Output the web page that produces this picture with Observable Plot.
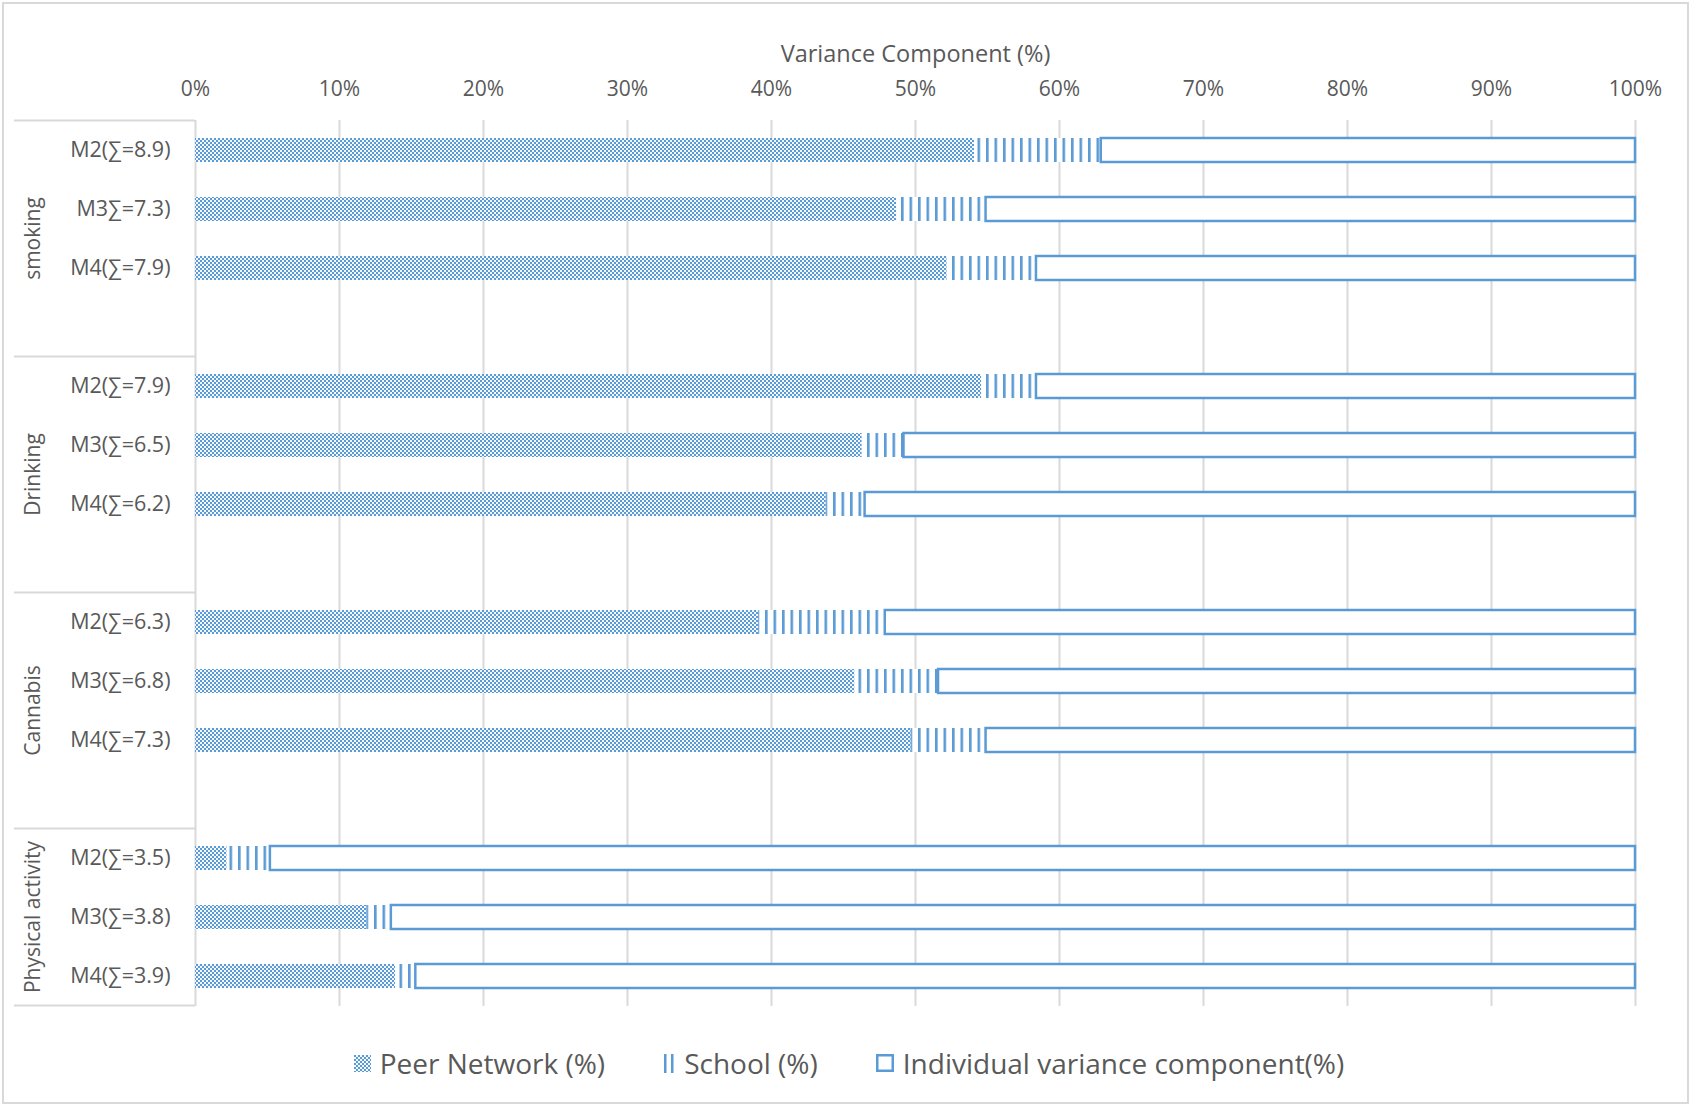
<!DOCTYPE html>
<html>
<head>
<meta charset="utf-8">
<script src="https://cdn.jsdelivr.net/npm/d3@7"></script>
<script src="https://cdn.jsdelivr.net/npm/@observablehq/plot@0.6"></script>
<style>
html, body { margin: 0; padding: 0; background: #fff; }
body { width: 1692px; height: 1106px; position: relative; overflow: hidden; font-family: "Open Sans", sans-serif; }
#frame { position: absolute; left: 2px; top: 2px; width: 1687px; height: 1102px; border: 2px solid #d9d9d9; box-sizing: border-box; }
#chart { position: absolute; left: 0; top: 0; }
#legend { position: absolute; left: 0; top: 1042px; width: 1692px; height: 42px; display: flex; justify-content: center; align-items: center; font-size: 28px; color: #595959; padding-left: 6px; box-sizing: border-box; }
#legend .item { display: flex; align-items: center; margin: 0 29px; white-space: nowrap; }
#legend svg { margin-right: 9px; }
</style>
</head>
<body>
<svg width="0" height="0" style="position:absolute">
  <defs>
    <pattern id="peerPat" patternUnits="userSpaceOnUse" width="4" height="4">
      <rect width="4" height="4" fill="#f4f8fd"/>
      <rect x="0" y="0" width="2" height="2" fill="#5b9bd5"/>
      <rect x="2" y="2" width="2" height="2" fill="#5b9bd5"/>
    </pattern>
    <pattern id="schoolPat" patternUnits="userSpaceOnUse" width="8.5" height="10">
      <rect width="8.5" height="10" fill="#ffffff"/>
      <rect x="0" y="0" width="2.6" height="10" fill="#5b9bd5"/>
    </pattern>
  </defs>
</svg>
<div id="frame"></div>
<div id="chart"></div>
<div id="legend"></div>
<script>
// ---- data ----
const groups = ["smoking", "Drinking", "Cannabis", "Physical activity"];
const models = ["M2", "M3", "M4"];
const rowLabels = [
  "M2(∑=8.9)", "M3∑=7.3)", "M4(∑=7.9)",
  "M2(∑=7.9)", "M3(∑=6.5)", "M4(∑=6.2)",
  "M2(∑=6.3)", "M3(∑=6.8)", "M4(∑=7.3)",
  "M2(∑=3.5)", "M3(∑=3.8)", "M4(∑=3.9)"
];
const peerNetwork = [54.1, 48.7, 52.2, 54.6, 46.3, 43.8, 39.1, 45.8, 49.7, 2.2, 11.9, 13.9];
const school      = [8.8, 6.2, 6.2, 3.8, 2.9, 2.7, 8.8, 5.8, 5.2, 3.0, 1.7, 1.4];
const individual  = [37.1, 45.1, 41.6, 41.6, 50.8, 53.5, 52.1, 48.4, 45.1, 94.8, 86.4, 84.7];
const xTicks = [0, 10, 20, 30, 40, 50, 60, 70, 80, 90, 100];
const axisTitle = "Variance Component (%)";
const legendLabels = ["Peer Network (%)", "School (%)", "Individual variance component(%)"];

// ---- build table ----
const BLUE = "#5b9bd5";
const GRID = "#d9d9d9";
const TEXT = "#595959";
const rows = [];
const yKeys = [];
const groupKeys = [];
groups.forEach((g, gi) => {
  const keys = [];
  models.forEach((m, mi) => {
    const i = gi * models.length + mi;
    const key = g + "|" + m;
    keys.push(key);
    yKeys.push(key);
    rows.push({
      key,
      label: rowLabels[i],
      peer: peerNetwork[i],
      schoolEnd: peerNetwork[i] + school[i],
      indEnd: peerNetwork[i] + school[i] + individual[i]
    });
  });
  if (gi < groups.length - 1) yKeys.push(g + "|gap");
  groupKeys.push(keys);
});
const labelMap = new Map(rows.map(r => [r.key, r.label]));

// table lines + rotated group labels on the left, positioned from the y scale
function groupTable(index, scales, values, dimensions) {
  const y = scales.y;
  const bw = y.bandwidth();
  const step = y.step ? y.step() : bw / 0.4;
  const pad = (step - bw) / 2;
  const g = d3.create("svg:g");
  const tops = groupKeys.map(k => y(k[0]) - pad);
  const lastKeys = groupKeys[groupKeys.length - 1];
  const bottom = y(lastKeys[lastKeys.length - 1]) + bw + pad;
  const edges = [...tops, bottom];
  const x0 = 14, x1 = dimensions.marginLeft;
  edges.forEach(e => {
    g.append("line").attr("x1", x0).attr("x2", x1).attr("y1", e).attr("y2", e)
      .attr("stroke", GRID).attr("stroke-width", 2);
  });
  groups.forEach((name, i) => {
    const mid = (edges[i] + edges[i + 1]) / 2;
    g.append("text")
      .attr("transform", `translate(32,${mid}) rotate(-90)`)
      .attr("text-anchor", "middle")
      .attr("dominant-baseline", "central")
      .attr("fill", TEXT)
      .attr("font-size", 21)
      .text(name);
  });
  return g.node();
}

const chart = Plot.plot({
  width: 1692,
  height: 1020,
  marginLeft: 195,
  marginRight: 57,
  marginTop: 120,
  marginBottom: 14,
  style: { fontFamily: "Open Sans, sans-serif", fontSize: "21px", color: TEXT, background: "transparent", overflow: "visible" },
  x: { domain: [0, 100] },
  y: { domain: yKeys, paddingInner: 0.6, paddingOuter: 0.3, align: 0.5 },
  marks: [
    Plot.ruleX(xTicks, { stroke: GRID, strokeWidth: 2 }),
    Plot.barX(rows, { y: "key", x1: 0, x2: "peer", fill: "url(#peerPat)" }),
    Plot.barX(rows, { y: "key", x1: "peer", x2: "schoolEnd", fill: "url(#schoolPat)" }),
    Plot.barX(rows, { y: "key", x1: "schoolEnd", x2: "indEnd", fill: "#ffffff", stroke: BLUE, strokeWidth: 2.5 }),
    Plot.axisX(xTicks, { anchor: "top", tickSize: 0, tickPadding: 25, tickFormat: d => d + "%", label: null, fill: TEXT, fontSize: 21 }),
    Plot.axisY(yKeys.filter(k => labelMap.has(k)), { anchor: "left", tickSize: 0, tickPadding: 25, tickFormat: k => labelMap.get(k), label: null, fill: TEXT, fontSize: 21.5 }),
    Plot.text([axisTitle], { frameAnchor: "top", dy: -75, fill: TEXT, fontSize: 23.5 }),
    groupTable
  ]
});
document.getElementById("chart").appendChild(chart);

// legend
const swatches = [
  `<svg width="17" height="17"><rect x="0" y="0" width="17" height="17" fill="url(#peerPat)"/></svg>`,
  `<svg width="12" height="19"><rect x="1" y="0" width="2.5" height="19" fill="${BLUE}"/><rect x="8" y="0" width="2.5" height="19" fill="${BLUE}"/></svg>`,
  `<svg width="18" height="18"><rect x="1.25" y="1.25" width="15.5" height="15.5" fill="#fff" stroke="${BLUE}" stroke-width="2.5"/></svg>`
];
const legend = document.getElementById("legend");
legendLabels.forEach((lab, i) => {
  const item = document.createElement("span");
  item.className = "item";
  item.innerHTML = swatches[i] + `<span>${lab}</span>`;
  legend.appendChild(item);
});
</script>
</body>
</html>
